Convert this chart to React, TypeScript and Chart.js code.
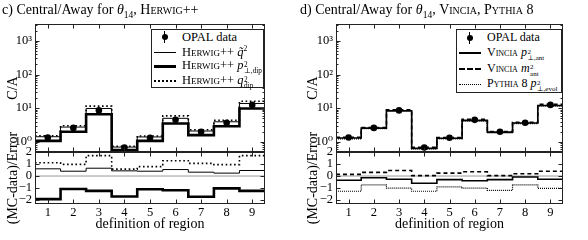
import React, { useEffect, useRef } from 'react';
import { Chart, registerables } from 'chart.js';
Chart.register(...registerables);

// ---------- data ----------
const regions = [1, 2, 3, 4, 5, 6, 7, 8, 9];
const regionTickLabels = ['1', '2', '3', '4', '5', '6', '7', '8', '9'];
const logTickValues = [1, 10, 100, 1000];
const logTickLabels = ['10⁰', '10¹', '10²', '10³'];
const ratioTickValues = [-2, -1, 0, 1, 2];
const ratioTickLabels = ['−2', '−1', '0', '1', '2'];

const opalData = [1.35, 2.6, 8.6, 0.68, 1.32, 4.5, 2.0, 3.7, 12.5];
const opalError = [0.08, 0.15, 0.6, 0.05, 0.08, 0.3, 0.12, 0.25, 1.3];

// Herwig++ (panel c)
const herwigQtilde = [1.42, 2.75, 9.8, 0.7, 1.4, 5.0, 2.1, 3.95, 13.8];
const herwigPtDip = [1.07, 2.0, 6.6, 0.57, 1.07, 3.5, 1.58, 2.9, 9.8];
const herwigQDip = [1.52, 3.0, 11.5, 0.74, 1.5, 5.9, 2.3, 4.4, 16.0];
const herwigQtildeRatio = [0.6, 0.4, 0.65, 0.43, 0.4, 0.54, 0.32, 0.24, 0.46];
const herwigPtDipRatio = [-1.92, -1.08, -1.24, -1.7, -1.1, -1.19, -1.73, -1.03, -1.24];
const herwigQDipRatio = [1.1, 0.97, 1.7, 0.57, 0.78, 1.27, 1.05, 0.95, 1.7];

// Vincia / Pythia 8 (panel d)
const vinciaPtAnt = [1.3, 2.55, 8.4, 0.64, 1.28, 4.35, 1.95, 3.65, 12.0];
const vinciaMAnt = [1.37, 2.65, 9.0, 0.69, 1.35, 4.65, 2.02, 3.8, 13.0];
const pythiaPtEvol = [1.22, 2.45, 8.0, 0.62, 1.22, 4.15, 1.85, 3.5, 11.5];
const vinciaPtAntRatio = [-0.35, -0.14, -0.27, -0.6, -0.3, -0.4, -0.3, -0.08, -0.27];
const vinciaMAntRatio = [0.14, 0.3, 0.46, 0.03, 0.24, 0.35, 0.03, 0.19, 0.4];
const pythiaPtEvolRatio = [-1.27, -0.73, -1.0, -1.27, -0.9, -1.0, -1.19, -0.73, -1.03];

const FONT = "'Liberation Serif', 'DejaVu Serif', serif";

type Series = { main: number[]; ratio: number[]; width: number; dash: number[] };

function steps(values: number[]) {
  const pts = values.map((v, i) => ({ x: regions[i] - 0.5, y: v }));
  pts.push({ x: regions[regions.length - 1] + 0.5, y: values[values.length - 1] });
  return pts;
}

const framePlugin = {
  id: 'frameTicks',
  afterDatasetsDraw(chart: any) {
    const ctx = chart.ctx;
    const a = chart.chartArea;
    const x = chart.scales.x;
    const y = chart.scales.y;
    const yr = chart.scales.yr;
    ctx.save();
    ctx.strokeStyle = '#000';
    ctx.lineWidth = 1;
    // error bars
    chart.data.datasets.forEach((ds: any) => {
      if (!ds.errorBars) return;
      ds.data.forEach((p: any, i: number) => {
        const px = Math.round(x.getPixelForValue(p.x)) + 0.5;
        ctx.beginPath();
        ctx.moveTo(px, y.getPixelForValue(p.y - ds.errorBars[i]));
        ctx.lineTo(px, y.getPixelForValue(p.y + ds.errorBars[i]));
        ctx.stroke();
      });
    });
    ctx.strokeStyle = '#222';
    const L = Math.round(a.left) + 0.5;
    const R = Math.round(a.right) - 0.5;
    [y, yr].forEach((s: any) => {
      const T = Math.round(s.top) + 0.5;
      const B = Math.round(s.bottom) - 0.5;
      ctx.strokeRect(L, T, R - L, B - T);
      regions.forEach((r) => {
        const px = Math.round(x.getPixelForValue(r)) + 0.5;
        ctx.beginPath();
        ctx.moveTo(px, T); ctx.lineTo(px, T + 4);
        ctx.moveTo(px, B); ctx.lineTo(px, B - 4);
        ctx.stroke();
      });
    });
    for (let d = -1; d <= 3; d++) {
      for (let k = 1; k <= 9; k++) {
        const v = k * Math.pow(10, d);
        if (v < y.min || v > y.max) continue;
        const py = Math.round(y.getPixelForValue(v)) + 0.5;
        const len = k === 1 ? 4 : 2;
        ctx.beginPath();
        ctx.moveTo(L, py); ctx.lineTo(L + len, py);
        ctx.moveTo(R, py); ctx.lineTo(R - len, py);
        ctx.stroke();
      }
    }
    ratioTickValues.forEach((v) => {
      const py = Math.round(yr.getPixelForValue(v)) + 0.5;
      ctx.beginPath();
      ctx.moveTo(L, py); ctx.lineTo(L + 4, py);
      ctx.moveTo(R, py); ctx.lineTo(R - 4, py);
      ctx.stroke();
    });
    ctx.restore();
  },
};

function PanelChart({ left, axisWidth, rightPad, titlePad, series }: { left: number; axisWidth: number; rightPad: number; titlePad: number; series: Series[] }) {
  const ref = useRef<HTMLCanvasElement | null>(null);
  useEffect(() => {
    if (!ref.current) return;
    const datasets: any[] = [];
    datasets.push({
      label: 'OPAL data',
      data: regions.map((r, i) => ({ x: r, y: opalData[i] })),
      errorBars: opalError,
      yAxisID: 'y',
      showLine: false,
      pointRadius: 3.3,
      pointBackgroundColor: '#000',
      pointBorderWidth: 0,
      borderColor: '#000',
    });
    series.forEach((s) => {
      datasets.push({
        data: steps(s.main), yAxisID: 'y', stepped: 'before', borderColor: '#000',
        borderWidth: s.width, borderDash: s.dash, pointRadius: 0, fill: false,
      });
    });
    series.forEach((s) => {
      datasets.push({
        data: steps(s.ratio), yAxisID: 'yr', stepped: 'before', borderColor: '#000',
        borderWidth: s.width, borderDash: s.dash, pointRadius: 0, fill: false,
      });
    });
    datasets.push({
      data: [{ x: 0.5, y: 0 }, { x: 9.5, y: 0 }], yAxisID: 'yr', borderColor: '#999',
      borderWidth: 1, pointRadius: 0,
    });
    const tickFont = { family: FONT, size: 12.5 };
    const titleFont = { family: FONT, size: 14 };
    const chart = new Chart(ref.current, {
      type: 'line',
      data: { datasets },
      plugins: [framePlugin],
      options: {
        responsive: false,
        animation: false,
        events: [],
        layout: { padding: { top: 24, right: rightPad, left: 0, bottom: 0 } },
        plugins: { legend: { display: false }, tooltip: { enabled: false } },
        scales: {
          x: {
            type: 'linear', min: 0.5, max: 9.5, position: 'bottom',
            afterBuildTicks: (s: any) => { s.ticks = regions.map((v) => ({ value: v })); },
            afterFit: (s: any) => { s.height = 36; },
            grid: { display: false, drawTicks: false },
            border: { display: false },
            ticks: {
              callback: (v: any) => regionTickLabels[regions.indexOf(v)],
              padding: 1, color: '#000', font: tickFont, maxRotation: 0, autoSkip: false,
            },
            title: { display: true, text: 'definition of region', color: '#000', font: titleFont, padding: { top: 0, bottom: 7 } },
          },
          yr: {
            type: 'linear', position: 'left', stack: 'panel', stackWeight: 52, min: -2.33, max: 2,
            afterBuildTicks: (s: any) => { s.ticks = ratioTickValues.map((v) => ({ value: v })); },
            afterFit: (s: any) => { s.width = axisWidth; },
            grid: { display: false, drawTicks: false },
            border: { display: false },
            ticks: { callback: (v: any) => ratioTickLabels[ratioTickValues.indexOf(v)], padding: 3, color: '#000', font: tickFont, autoSkip: false },
            title: { display: true, text: '(MC-data)/Error', color: '#000', font: titleFont, padding: { top: titlePad, bottom: 0 } },
          },
          y: {
            type: 'logarithmic', position: 'left', stack: 'panel', stackWeight: 128, min: 0.5, max: 3162,
            afterBuildTicks: (s: any) => { s.ticks = logTickValues.map((v) => ({ value: v })); },
            afterFit: (s: any) => { s.width = axisWidth; },
            grid: { display: false, drawTicks: false },
            border: { display: false },
            ticks: { callback: (v: any) => logTickLabels[logTickValues.indexOf(v)], padding: 3, color: '#000', font: tickFont, autoSkip: false },
            title: { display: true, text: 'C/A', color: '#000', font: titleFont, padding: { top: titlePad, bottom: 0 } },
          },
        },
      } as any,
    });
    return () => chart.destroy();
  }, []);
  return <canvas ref={ref} width={294} height={240} style={{ position: 'absolute', left, top: 0, width: 294, height: 240 }} />;
}

function SupSub({ sup, sub }: { sup: string; sub: string }) {
  return (
    <span style={{ display: 'inline-block', verticalAlign: '-0.55em', fontSize: '0.58em', lineHeight: 0.9, marginLeft: 0.5 }}>
      <span style={{ display: 'block' }}>{sup}</span>
      <span style={{ display: 'block' }}>{sub}</span>
    </span>
  );
}

const sc: React.CSSProperties = { fontVariant: 'small-caps' };

function Marker() {
  return (
    <span style={{ position: 'relative', display: 'inline-block', width: 22, height: 12 }}>
      <span style={{ position: 'absolute', left: 10, top: 0, width: 1, height: 12, background: '#000' }} />
      <span style={{ position: 'absolute', left: 7.5, top: 3, width: 6, height: 6, borderRadius: 3, background: '#000' }} />
    </span>
  );
}

function LineSample({ width, style }: { width: number; style: string }) {
  return <span style={{ display: 'inline-block', width: 22, height: 0, borderTop: `${width}px ${style} #000`, verticalAlign: 'middle' }} />;
}

function Legend({ left, top, width, height, rows, rowH, textLeft, fontSize }: { left: number; top: number; width: number; height: number; rows: { sample: React.ReactNode; text: React.ReactNode }[]; rowH: number; textLeft: number; fontSize: number }) {
  return (
    <div style={{ position: 'absolute', left, top, width, height, border: '1px solid #222', background: '#fff', boxSizing: 'border-box', fontFamily: FONT, fontSize, color: '#000' }}>
      {rows.map((r, i) => (
        <div key={i} style={{ position: 'absolute', left: 2, top: 0 + i * rowH, height: rowH, display: 'flex', alignItems: 'center', whiteSpace: 'nowrap' }}>
          <span style={{ width: textLeft, display: 'inline-flex', alignItems: 'center' }}>{r.sample}</span>
          <span>{r.text}</span>
        </div>
      ))}
    </div>
  );
}

export default function App() {
  const seriesC: Series[] = [
    { main: herwigQtilde, ratio: herwigQtildeRatio, width: 1, dash: [] },
    { main: herwigPtDip, ratio: herwigPtDipRatio, width: 2.6, dash: [] },
    { main: herwigQDip, ratio: herwigQDipRatio, width: 1.6, dash: [1.6, 2.6] },
  ];
  const seriesD: Series[] = [
    { main: vinciaPtAnt, ratio: vinciaPtAntRatio, width: 1.6, dash: [] },
    { main: vinciaMAnt, ratio: vinciaMAntRatio, width: 1.6, dash: [4, 3] },
    { main: pythiaPtEvol, ratio: pythiaPtEvolRatio, width: 1.2, dash: [1, 1] },
  ];
  const titleStyle: React.CSSProperties = { position: 'absolute', top: 2, fontFamily: FONT, fontSize: 14, whiteSpace: 'nowrap', color: '#000' };
  return (
    <div style={{ position: 'absolute', left: 0, top: 0, width: 588, height: 240, background: '#fff', overflow: 'hidden' }}>
      <PanelChart left={0} axisWidth={35} rightPad={29} titlePad={5} series={seriesC} />
      <PanelChart left={294} axisWidth={42} rightPad={25} titlePad={11} series={seriesD} />
      <div style={{ ...titleStyle, left: 2 }}>
        c) Central/Away for <i>θ</i><sub style={{ fontSize: '0.68em' }}>14</sub>, <span style={sc}>Herwig++</span>
      </div>
      <div style={{ ...titleStyle, left: 300 }}>
        d) Central/Away for <i>θ</i><sub style={{ fontSize: '0.68em' }}>14</sub>, <span style={sc}>Vincia</span>, <span style={sc}>Pythia 8</span>
      </div>
      <Legend left={151} top={29} width={113} height={59} rowH={14.7} textLeft={28} fontSize={12.5}
        rows={[
          { sample: <Marker />, text: 'OPAL data' },
          { sample: <LineSample width={1} style="solid" />, text: <><span style={sc}>Herwig++</span> <i>q̃</i><sup style={{ fontSize: '0.6em', lineHeight: 0 }}>2</sup></> },
          { sample: <LineSample width={3} style="solid" />, text: <><span style={sc}>Herwig++</span> <i>p</i><SupSub sup="2" sub="⊥,dip" /></> },
          { sample: <LineSample width={2} style="dotted" />, text: <><span style={sc}>Herwig++</span> <i>q</i><SupSub sup="2" sub="dip" /></> },
        ]} />
      <Legend left={456} top={29} width={106} height={64} rowH={15.5} textLeft={28} fontSize={12}
        rows={[
          { sample: <Marker />, text: 'OPAL data' },
          { sample: <LineSample width={2} style="solid" />, text: <><span style={sc}>Vincia</span> <i>p</i><SupSub sup="2" sub="⊥,ant" /></> },
          { sample: <LineSample width={2} style="dashed" />, text: <><span style={sc}>Vincia</span> <i>m</i><SupSub sup="2" sub="ant" /></> },
          { sample: <LineSample width={1} style="dotted" />, text: <><span style={sc}>Pythia 8</span> <i>p</i><SupSub sup="2" sub="⊥,evol" /></> },
        ]} />
    </div>
  );
}
